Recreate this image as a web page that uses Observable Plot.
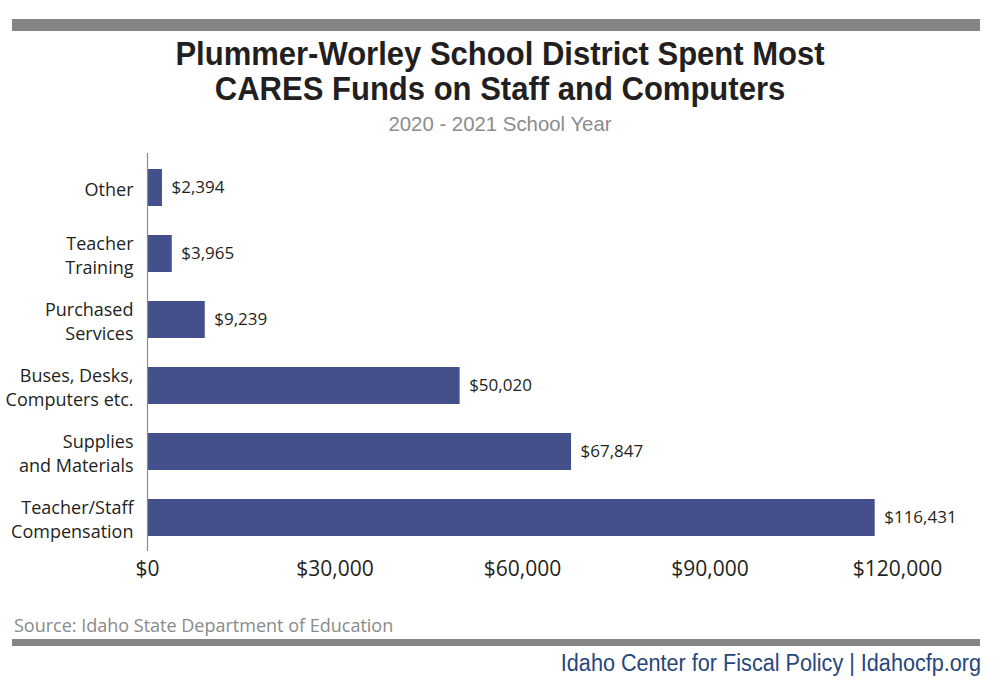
<!DOCTYPE html>
<html>
<head>
<meta charset="utf-8">
<script src="https://cdn.jsdelivr.net/npm/d3@7"></script>
<script src="https://cdn.jsdelivr.net/npm/@observablehq/plot@0.6"></script>
<style>
  html, body { margin: 0; padding: 0; background: #fff; }
  #page { position: relative; width: 1000px; height: 694px; overflow: hidden; background: #fff; }
  .bar { position: absolute; left: 12px; width: 968px; background: #858585; }
  #title { position: absolute; top: 36px; left: 0; width: 1000px; text-align: center;
    font-family: "Liberation Sans", sans-serif; font-weight: bold;
    font-size: 33px; line-height: 35px; color: #231f20; transform: scaleX(0.94); transform-origin: 500px 0; }
  #subtitle { position: absolute; top: 112px; left: 0; width: 1000px; text-align: center;
    font-family: "Liberation Sans", sans-serif; font-size: 21px; color: #8c8c8c; transform: scaleX(0.97); transform-origin: 500px 0; }
  #chart { position: absolute; top: 145px; left: 0; }
  #source { position: absolute; top: 613px; left: 14px; font-family: "Open Sans", sans-serif;
    font-size: 18px; color: #8a8a8a; }
  #footer { position: absolute; top: 650px; right: 19px; font-family: "Liberation Sans", sans-serif;
    font-size: 23px; color: #27467e; transform: scaleX(0.94); transform-origin: 100% 0; }
</style>
</head>
<body>
<div id="page">
  <div class="bar" style="top:19px;height:12px;"></div>
  <div id="title">Plummer-Worley School District Spent Most<br>CARES Funds on Staff and Computers</div>
  <div id="subtitle">2020 - 2021 School Year</div>
  <div id="chart"></div>
  <div id="source">Source: Idaho State Department of Education</div>
  <div class="bar" style="top:639px;height:7px;"></div>
  <div id="footer">Idaho Center for Fiscal Policy | Idahocfp.org</div>
</div>
<script>
const categories = ["Other", "Teacher Training", "Purchased Services", "Buses, Desks, Computers etc.", "Supplies and Materials", "Teacher/Staff Compensation"];
const labels = ["Other", "Teacher\nTraining", "Purchased\nServices", "Buses, Desks,\nComputers etc.", "Supplies\nand Materials", "Teacher/Staff\nCompensation"];
const values = [2394, 3965, 9239, 50020, 67847, 116431];
const xTicks = [0, 30000, 60000, 90000, 120000];

const data = categories.map((c, i) => ({category: c, label: labels[i], value: values[i]}));
const labelOf = new Map(categories.map((c, i) => [c, labels[i]]));
const money = d => "$" + d3.format(",")(d);

const chart = Plot.plot({
  width: 1000,
  height: 455,
  marginTop: 8,
  marginBottom: 49,
  marginLeft: 147,
  marginRight: 103,
  style: {fontFamily: "Open Sans, sans-serif", color: "#231f20", background: "#fff"},
  x: {domain: [0, 120000], ticks: xTicks},
  y: {domain: categories, paddingInner: 0.44, paddingOuter: 0.22},
  marks: [
    Plot.barX(data, {x: "value", y: "category", fill: "#44508b"}),
    Plot.ruleX([0], {stroke: "#8a8a8a", strokeWidth: 1.2}),
    Plot.text(data, {x: "value", y: "category", text: d => money(d.value), dx: 9, textAnchor: "start", fontSize: 17, fill: "#231f20"}),
    Plot.axisX({ticks: xTicks, tickFormat: money, tickSize: 0, tickPadding: 10, fontSize: 21, label: null, fill: "#231f20"}),
    Plot.axisY({tickFormat: d => labelOf.get(d), tickSize: 0, tickPadding: 14, fontSize: 18, lineHeight: 1.33, label: null, fill: "#231f20"})
  ]
});
document.getElementById("chart").appendChild(chart);
</script>
</body>
</html>
